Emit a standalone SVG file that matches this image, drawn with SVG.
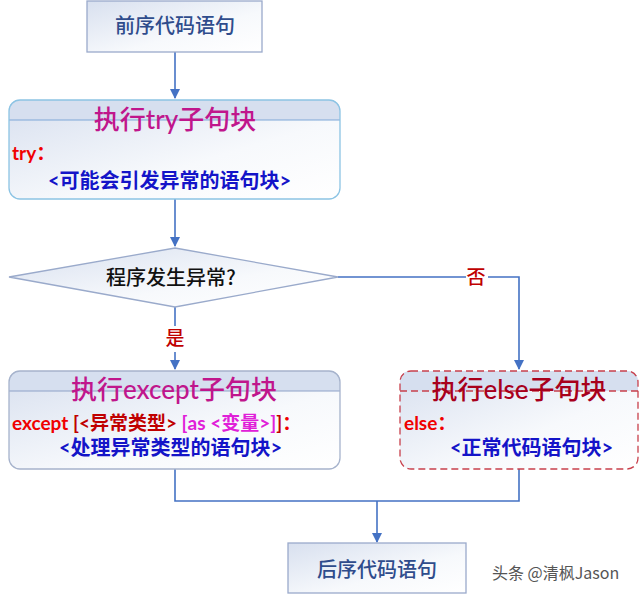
<svg xmlns="http://www.w3.org/2000/svg" width="640" height="595" viewBox="0 0 640 595">
<defs>
<linearGradient id="g" x1="0" y1="0" x2="1" y2="1">
<stop offset="0" stop-color="#D8E0EF"/>
<stop offset="0.6" stop-color="#F7F9FC"/>
<stop offset="1" stop-color="#FFFFFF"/>
</linearGradient>
<marker id="arr" markerWidth="10" markerHeight="10" refX="9" refY="5" orient="auto" markerUnits="userSpaceOnUse">
<path d="M0,0 L10,5 L0,10 Z" fill="#4472C4"/>
</marker>
<style>
.cn{font-family:"Microsoft YaHei","Noto Sans CJK SC",sans-serif}
.lt{font-family:"Lato","Noto Sans CJK SC",sans-serif}
.box{fill:url(#g);stroke:#9AAACB;stroke-width:1.3}
.conn{fill:none;stroke:#4472C4;stroke-width:1.6}
.hdr{fill:#D6DFEF}
.title{font-size:26px;fill:#C0168C;text-anchor:middle;font-weight:500}
.red{fill:#F00000;font-weight:bold;font-size:19px}
.blue{fill:#1414C8;font-weight:bold;font-size:20px}
.lbl{fill:#C00000;font-size:19px;font-weight:500}
</style>
</defs>

<g id="connectors">
<path class="conn" d="M175,52 V98" marker-end="url(#arr)"/>
<path class="conn" d="M175,199 V246" marker-end="url(#arr)"/>
<path class="conn" d="M175,307 V326"/>
<path class="conn" d="M175,352 V369" marker-end="url(#arr)"/>
<path class="conn" d="M338,277 H519 V369" marker-end="url(#arr)"/>
<path class="conn" d="M175,469 V501 H519 V469"/>
<path class="conn" d="M377,501 V542" marker-end="url(#arr)"/>
<rect x="466" y="266" width="22" height="24" fill="#FFFFFF"/>
<text class="cn lbl" x="476" y="284" text-anchor="middle">否</text>
<text class="cn lbl" x="175" y="345" text-anchor="middle">是</text>
</g>

<g id="start">
<rect class="box" x="87" y="1" width="175" height="51"/>
<text class="cn" x="175" y="33" font-size="20" font-weight="500" fill="#2F4C8C" text-anchor="middle">前序代码语句</text>
</g>

<g id="try">
<rect x="9" y="100" width="331" height="99" rx="11" fill="url(#g)"/>
<path class="hdr" d="M9,120 V111 Q9,100 20,100 H329 Q340,100 340,111 V120 Z"/>
<line x1="9" y1="120" x2="340" y2="120" stroke="#7FA7D8" stroke-width="1.2"/>
<rect x="9" y="100" width="331" height="99" rx="11" fill="none" stroke="#8CC4E4" stroke-width="1.3"/>
<text class="lt title" x="175" y="129">执行try子句块</text>
<text class="lt red" x="12" y="160">try：</text>
<text class="lt blue" x="48" y="188">&lt;可能会引发异常的语句块&gt;</text>
</g>

<g id="decision">
<polygon points="175,248 338,277 175,307 9,277" fill="url(#g)" stroke="#9AAACB" stroke-width="1.3"/>
<text class="cn" x="171" y="285" font-size="20" font-weight="500" fill="#111111" text-anchor="middle">程序发生异常?</text>
</g>

<g id="except">
<rect x="9" y="371" width="331" height="98" rx="11" fill="url(#g)"/>
<path class="hdr" d="M9,391 V382 Q9,371 20,371 H329 Q340,371 340,382 V391 Z"/>
<line x1="9" y1="391" x2="340" y2="391" stroke="#8EA2C8" stroke-width="1.2"/>
<rect x="9" y="371" width="331" height="98" rx="11" fill="none" stroke="#A6B3CC" stroke-width="1.3"/>
<text class="lt title" x="174" y="399">执行except子句块</text>
<text class="lt red" x="12" y="430">except <tspan fill="#C00000">[&lt;异常类型&gt;</tspan> <tspan fill="#E020D8">[as &lt;变量&gt;]</tspan><tspan fill="#C00000">]</tspan>：</text>
<text class="lt blue" x="59" y="455">&lt;处理异常类型的语句块&gt;</text>
</g>

<g id="else">
<rect x="400" y="371" width="238" height="98" rx="11" fill="url(#g)"/>
<path class="hdr" d="M400,391 V382 Q400,371 411,371 H627 Q638,371 638,382 V391 Z"/>
<line x1="400" y1="391" x2="638" y2="391" stroke="#C8404C" stroke-width="1.3" stroke-dasharray="7,4"/>
<rect x="400" y="371" width="238" height="98" rx="11" fill="none" stroke="#C8404C" stroke-width="1.3" stroke-dasharray="7,4"/>
<text class="lt" x="519" y="399" font-size="26" font-weight="500" fill="#A8001C" text-anchor="middle">执行else子句块</text>
<text class="lt red" x="404" y="430">else：</text>
<text class="lt blue" x="450" y="455">&lt;正常代码语句块&gt;</text>
</g>

<g id="end">
<rect class="box" x="288" y="543" width="178" height="50"/>
<text class="cn" x="377" y="577" font-size="20" font-weight="500" fill="#2F4C8C" text-anchor="middle">后序代码语句</text>
</g>

<g id="watermark">
<text class="cn" x="492" y="579" font-size="16" fill="#555555">头条 @清枫Jason</text>
</g>
</svg>
